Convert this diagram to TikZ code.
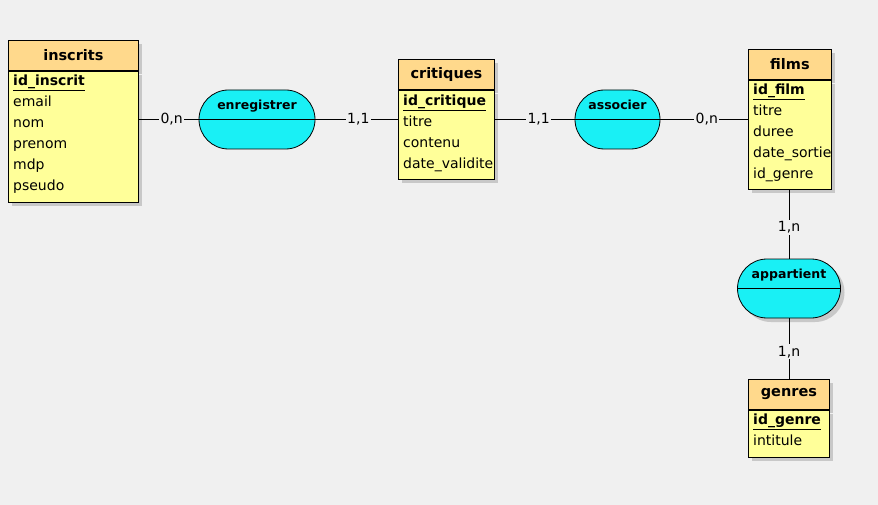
\documentclass[tikz,border=0pt]{standalone}
\usepackage{fontspec}
\setmainfont{DejaVu Sans}
\usetikzlibrary{positioning,calc,shapes.misc,shadows}

\definecolor{fond}{RGB}{240,240,240}
\definecolor{enthead}{RGB}{255,217,140}
\definecolor{entfill}{RGB}{255,255,153}
\definecolor{assocfill}{RGB}{25,240,245}
\definecolor{ombre}{RGB}{200,200,200}

\tikzset{
  ombrage/.style={drop shadow={shadow xshift=4pt,shadow yshift=-4pt,fill=ombre,opacity=1}},
  enttitle/.style={draw,line width=0.8pt,fill=enthead,ombrage,minimum height=30pt,inner sep=0pt,anchor=north west,font=\fontsize{14.5}{16}\selectfont\bfseries},
  entbody/.style={draw,line width=0.8pt,fill=entfill,ombrage,inner sep=0pt},
  attr/.style={anchor=base west,inner sep=0pt,font=\fontsize{14}{16}\selectfont},
  assoc/.style={rounded rectangle,draw,line width=0.8pt,fill=assocfill,minimum height=59pt,inner sep=0pt},
  assoctext/.style={anchor=base,inner sep=0pt,font=\fontsize{12.5}{14}\selectfont\bfseries},
  card/.style={fill=fond,inner sep=1.5pt,pos=0.55,font=\fontsize{14}{16}\selectfont},
  link/.style={draw,line width=0.8pt}
}

\begin{document}
\begin{tikzpicture}[x=1pt,y=-1pt]
    \path[use as bounding box,fill=fond] (0,0) rectangle (878,505);

    % entites
    \node[enttitle,minimum width=130pt] (inscrits-t) at (8,40) {inscrits};
    \node[entbody,minimum width=130pt,minimum height=131pt,below=0pt of inscrits-t] (inscrits-b) {};
    \foreach \a [count=\i from 0] in {\underline{\textbf{id\_inscrit}},email,nom,prenom,mdp,pseudo}
        \node[attr] (inscrits-a\i) at ($(inscrits-b.north west)+(5,15+21*\i)$) {\a};

    \node[enttitle,minimum width=96pt] (critiques-t) at (398,59) {critiques};
    \node[entbody,minimum width=96pt,minimum height=89pt,below=0pt of critiques-t] (critiques-b) {};
    \foreach \a [count=\i from 0] in {\underline{\textbf{id\_critique}},titre,contenu,date\_validite}
        \node[attr] (critiques-a\i) at ($(critiques-b.north west)+(5,16+21*\i)$) {\a};

    \node[enttitle,minimum width=83pt] (films-t) at (748,49) {films};
    \node[entbody,minimum width=83pt,minimum height=109pt,below=0pt of films-t] (films-b) {};
    \foreach \a [count=\i from 0] in {\underline{\textbf{id\_film}},titre,duree,date\_sortie,id\_genre}
        \node[attr] (films-a\i) at ($(films-b.north west)+(5,15+21*\i)$) {\a};

    \node[enttitle,minimum width=81pt] (genres-t) at (748,379) {genres};
    \node[entbody,minimum width=81pt,minimum height=47pt,below=0pt of genres-t] (genres-b) {};
    \foreach \a [count=\i from 0] in {\underline{\textbf{id\_genre}},intitule}
        \node[attr] (genres-a\i) at ($(genres-b.north west)+(5,15+21*\i)$) {\a};

    % associations
    \node[assoc,minimum width=116pt] (enregistrer) at (257,119.5) {};
    \draw[link] (enregistrer.west) -- (enregistrer.east);
    \node[assoctext] (enregistrer-t) at ($(enregistrer.center)+(0,-10)$) {enregistrer};

    \node[assoc,minimum width=85pt] (associer) at (617.5,119.5) {};
    \draw[link] (associer.west) -- (associer.east);
    \node[assoctext] (associer-t) at ($(associer.center)+(0,-10)$) {associer};

    \node[assoc,ombrage,minimum width=103pt] (appartient) at (789,288.5) {};
    \draw[link] (appartient.west) -- (appartient.east);
    \node[assoctext] (appartient-t) at ($(appartient.center)+(0,-10)$) {appartient};

    % liens
    \draw[link] (inscrits-b.east |- enregistrer.west) -- (enregistrer.west) node[card] {0,n};
    \draw[link] (enregistrer.east) -- (critiques-b.west |- enregistrer.east) node[card,pos=0.52] {1,1};
    \draw[link] (critiques-b.east |- associer.west) -- (associer.west) node[card] {1,1};
    \draw[link] (associer.east) -- (films-b.west |- associer.east) node[card,pos=0.53] {0,n};
    \draw[link] (films-b.south -| appartient.north) -- (appartient.north) node[card] {1,n};
    \draw[link] (appartient.south) -- (genres-t.north -| appartient.south) node[card] {1,n};
\end{tikzpicture}
\end{document}
